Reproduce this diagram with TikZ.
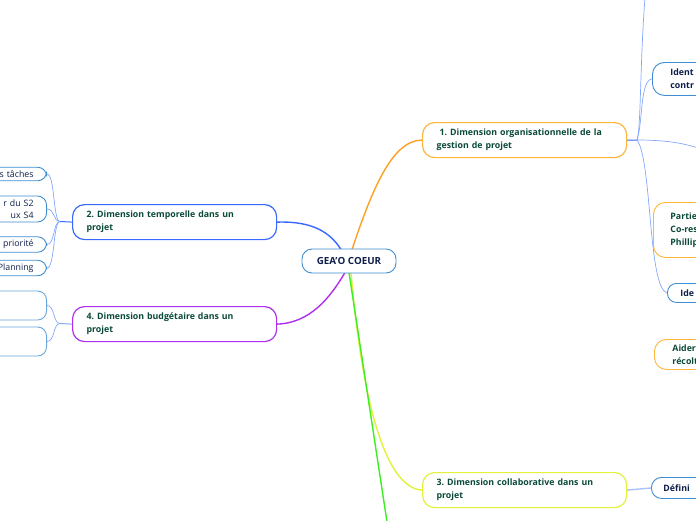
\documentclass[tikz,border=0pt]{standalone}
\usepackage{fontspec}
\setmainfont{Open Sans}
\frenchspacing
\definecolor{navy}{HTML}{0D1E4A}
\definecolor{dgreen}{HTML}{0B4A3A}
\definecolor{corange}{HTML}{FFA024}
\definecolor{borange}{HTML}{FFB53A}
\definecolor{cblue}{HTML}{3868FF}
\definecolor{cpurple}{HTML}{B02EF0}
\definecolor{cyellow}{HTML}{E2F23A}
\definecolor{cgreen}{HTML}{3CEE22}
\definecolor{lblue}{HTML}{84A8FA}
\definecolor{sblue}{HTML}{3F8ED2}
\definecolor{pblue}{HTML}{6AA6DA}
\tikzset{
  mainbox/.style={draw, line width=1.2pt, rounded corners=12pt, fill=white,
     anchor=north west, minimum width=204pt, minimum height=35pt,
     text width=176pt, inner xsep=14pt, align=left, text=dgreen, font=\fontsize{8.8}{13}\selectfont\bfseries},
  leftbox/.style={draw=sblue, line width=0.9pt, rounded corners=9pt, fill=white,
     anchor=east, text width=120pt, inner xsep=13pt, align=right, text=navy, font=\fontsize{8.8}{12.5}\selectfont},
  rightbox/.style={draw=sblue, line width=0.9pt, rounded corners=12pt, fill=white,
     anchor=north west, text width=120pt, align=left, text=navy, font=\fontsize{8.8}{13}\selectfont\bfseries},
  rightorange/.style={rightbox, draw=borange, text=dgreen},
  centralbox/.style={draw=sblue, line width=0.9pt, rounded corners=10pt, fill=white, minimum width=94pt, minimum height=24pt,
      text=navy, font=\fontsize{9.8}{12}\selectfont\bfseries},
  thin/.style={draw=lblue, line width=0.7pt},
  main/.style={line width=1.4pt}
}
\begin{document}
\begin{tikzpicture}[x=1pt,y=-1pt]
\useasboundingbox (0,0) rectangle (696,520);

% main nodes
\node[mainbox, draw=borange] (n1) at (422,122) {\hspace{3pt}1. Dimension organisationnelle de la\\gestion de projet};
\node[mainbox, draw=cblue] (n2) at (72,204) {2. Dimension temporelle dans un\\projet};
\node[mainbox, draw=cpurple] (n4) at (72,306) {4. Dimension budgétaire dans un\\projet};
\node[mainbox, draw=cyellow] (n3) at (422,472) {3. Dimension collaborative dans un\\projet};

% connectors from central node
\coordinate (ctop) at (352,249.5);
\coordinate (ctopl) at (341,249.5);
\coordinate (cbotl) at (345,272.5);
\coordinate (cbot) at (351,272.5);
\coordinate (cbotg) at (349,272.5);
\coordinate (gend) at (387,522);
\draw[main, corange] (ctop) .. controls (372,190) and (392,140) .. (n1.west);
\draw[main, cblue] (n2.east) .. controls (312,221) and (330,232) .. (ctopl);
\draw[main, cpurple] (cbotl) .. controls (330,298) and (310,323) .. (n4.east);
\draw[main, cyellow] (cbot) .. controls (362,400) and (385,488) .. (n3.west);
\draw[main, cgreen] (cbotg) -- (gend);

% central node
\node[centralbox] (c) at (349,261) {GEA'O COEUR};

% children of node 2 (left)
\node[leftbox] (l1) at (47,174) {s tâches};
\node[leftbox] (l2) at (47,209) {r du S2\\ux S4\hspace{5pt}};
\node[leftbox] (l3) at (47,244.5) {e priorité};
\node[leftbox] (l4) at (47,268) {Planning};
\coordinate (j2) at (60,221.5);
\draw[line width=1pt, cblue] (n2.west) -- (j2);
\foreach \t in {l1,l2,l3,l4}{
  \draw[thin] (j2) .. controls (53,221.5) and (55,0|-\t.east) .. (\t.east);
}

% children of node 4 (left)
\node[leftbox, draw=pblue, minimum height=29pt] (b1) at (47,305.5) {};
\node[leftbox, draw=pblue, minimum height=29pt] (b2) at (47,341.5) {};
\coordinate (j4) at (60,323.5);
\draw[line width=1pt, lblue] (n4.west) -- (j4);
\foreach \t in {b1,b2}{
  \draw[thin] (j4) .. controls (53,323.5) and (55,0|-\t.east) .. (\t.east);
}

% children of node 1 (right)
\node[rightbox, minimum height=33pt, inner xsep=18pt] (r1) at (652,62) {Ident\\contr};
\node[rightorange, minimum height=55pt, inner xsep=17pt] (r2) at (653,202) {Partie\\Co-res\\Phillip};
\node[rightbox, minimum height=19pt, inner xsep=13pt, rounded corners=9pt] (r3) at (667,283) {Ide};
\node[rightorange, minimum height=30pt, inner xsep=18pt] (r4) at (654,339) {Aider\\récolt};
\coordinate (j1) at (637,140);
\coordinate (up1) at (645,-2);
\coordinate (rt1) at (698,148);
\draw[line width=1pt, cblue] (n1.east) -- (j1);
\draw[thin] (j1) .. controls (641,130) and (640,60) .. (up1);
\draw[thin] (j1) .. controls (643,122) and (640,80) .. (r1.west);
\draw[thin] (j1) .. controls (660,140) and (680,142) .. (rt1);
\draw[thin] (j1) .. controls (652,160) and (648,288) .. (r3.west);

% child of node 3
\node[rightbox, minimum height=21pt, inner xsep=12pt, rounded corners=10pt] (r5) at (651,477) {Défini};
\draw[line width=1.4pt, draw=lblue!70] (n3.east) -- (r5.west);
\end{tikzpicture}
\end{document}
